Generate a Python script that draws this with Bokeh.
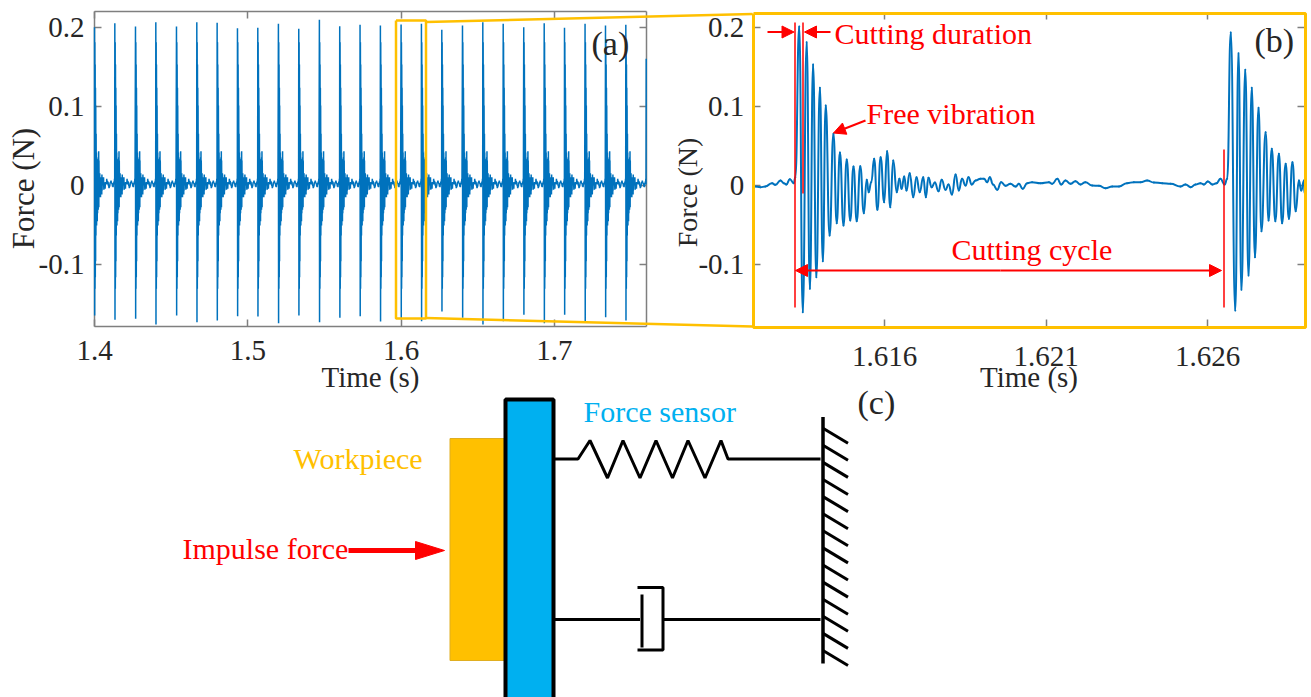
import math
import numpy as np
from bokeh.core.properties import value
from bokeh.embed import file_html
from bokeh.models import Arrow, FixedTicker, LinearAxis, NormalHead, Range1d
from bokeh.plotting import figure
from bokeh.resources import INLINE

# ---- panel (b): force signal (extremes of the oscillation)
b_time = [
    1.61197, 1.61216, 1.61231, 1.61252, 1.61262, 1.61278, 1.61288, 1.61296, 1.61307, 1.61319, 1.61324,
    1.61336, 1.61347, 1.61359, 1.61369, 1.61379, 1.61389, 1.61400, 1.61409, 1.61418, 1.61430, 1.61442,
    1.61452, 1.61462, 1.61473, 1.61483, 1.61494, 1.61504, 1.61514, 1.61525, 1.61536, 1.61545, 1.61551,
    1.61559, 1.61568, 1.61578, 1.61588, 1.61599, 1.61608, 1.61618, 1.61627, 1.61638, 1.61646, 1.61653,
    1.61661, 1.61668, 1.61678, 1.61689, 1.61699, 1.61709, 1.61720, 1.61728, 1.61736, 1.61746, 1.61756,
    1.61767, 1.61777, 1.61789, 1.61798, 1.61809, 1.61820, 1.61830, 1.61840, 1.61851, 1.61860, 1.61870,
    1.61882, 1.61897,
    1.61908, 1.61918, 1.61926, 1.61936, 1.61949, 1.61961, 1.61975, 1.61990, 1.62006, 1.62016, 1.62028,
    1.62042, 1.62057, 1.62083, 1.62109, 1.62119, 1.62135, 1.62147, 1.62160, 1.62176, 1.62191, 1.62207,
    1.62222, 1.62243, 1.62264, 1.62284, 1.62305, 1.62326, 1.62351, 1.62372, 1.62393, 1.62413, 1.62434,
    1.62460, 1.62486, 1.62516, 1.62532, 1.62548, 1.62563, 1.62578, 1.62589, 1.62601, 1.62615, 1.62628,
    1.62640, 1.62653, 1.62661,
    1.62672, 1.62686, 1.62696, 1.62705, 1.62717, 1.62727, 1.62737, 1.62747, 1.62758, 1.62767, 1.62780,
    1.62789, 1.62799, 1.62810, 1.62821, 1.62831, 1.62842, 1.62852, 1.62863, 1.62873, 1.62883, 1.62890,
    1.62899, 1.62900,
]
b_force = [
    -.0013, -.0021, -.0013, .0030, .0008, .0063, .0030, .0013, .0080, .0030, .0105,
    .2013, -.1603, .1814, -.1308, .1532, -.1160, .1236, -.0958, .1013, -.0633, .0654,
    -.0477, .0418, -.0506, .0329, -.0443, .0241, -.0451, .0245, -.0350, .0072, -.0084,
    .0042, .0338, -.0308, .0359, -.0211, .0435, -.0274, .0316, -.0084, .0084, -.0042,
    .0114, -.0063, .0156, -.0148, .0105, -.0084, .0105, -.0148, .0097, -.0021, .0038,
    -.0072, .0072, -.0055, .0013, -.0114, .0139, -.0063, .0084, 0.0, .0105, .0013,
    .0063, .0084,
    .0084, .0042, .0105, .0013, -.0055, .0042, -.0004, .0021, -.0013, .0021, -.0042,
    .0030, .0042, .0030, .0042, .0021, .0084, .0013, .0063, .0021, .0055, .0013,
    .0042, 0.0, -.0004, -.0034, -.0013, -.0013, .0030, .0042, .0042, .0063, .0038,
    .0030, .0021, -.0013, .0013, -.0021, .0013, .0030, .0013, .0051, .0013, .0030,
    .0084, .0013, .0084,
    .1937, -.1582, .1675, -.1321, .1464, -.1139, .1236, -.0907, .0983, -.0578, .0675,
    -.0443, .0464, -.0451, .0401, -.0477, .0274, -.0422, .0295, -.0325, .0063, -.0063,
    .0063, -.0097,
]

# ---- panel (a): time, top and bottom of every cutting burst
a_burst_time = [
    1.4, 1.41326, 1.42674, 1.44, 1.45348, 1.46674, 1.48, 1.49326, 1.50652, 1.51997, 1.53324, 1.5467, 1.55996,
    1.57322, 1.58649, 1.6, 1.61326, 1.62655, 1.64005, 1.6533, 1.6666, 1.68, 1.69335, 1.70659, 1.72, 1.73333,
    1.74659, 1.7599,
]
a_burst_top = [
    .2004, .2055, .2013, .2068, .2013, .2068, .2059, .1992, .1996, .2046, .1983, .2097, .2017, .2034,
    .2025, .2038, .2046, .1970, .2025, .2068, .2046, .2004, .2055, .1996, .2046, .2025, .2034, .1603,
]
a_burst_bottom = [
    -.1646, -.1700, -.1688, -.1759, -.1646, -.1730, -.1709, -.1654, -.1658, -.1743, -.1646, -.1730, -.1675,
    -.1654, -.1722, -.1696, -.1717, -.1595, -.1675, -.1759, -.1717, -.1637, -.1743, -.1637, -.1717, -.1667,
    -.1709, -.1600,
]

a_xticks = [1.4, 1.5, 1.6, 1.7]
a_yticks = [-0.1, 0, 0.1, 0.2]
b_xticks = [1.616, 1.621, 1.626]
b_yticks = [-0.1, 0, 0.1, 0.2]
y_tick_labels = {-0.1: "-0.1", 0: "0", 0.1: "0.1", 0.2: "0.2"}

W, H = 1311, 697
OX, OY = 0, 0
SERIF = value("Liberation Serif")
LINE = "#0072BD"
RED = "#FF0000"
YELLOW = "#FFC000"
CYAN = "#00B0F0"
GREY = "#7f7f7f"
DARK = "#262626"

# The frame is the whole figure, in picture pixels; each panel has its own ranges.
p = figure(width=W, height=H, x_range=Range1d(OX, OX + W), y_range=Range1d(OY + H, OY),
           x_axis_type=None, y_axis_type=None, toolbar_location=None, output_backend="svg",
           min_border=0, outline_line_color=None, background_fill_color="white")
p.grid.visible = False


def add_ranges(name, px_per_x, px0, x0, px_per_y, py0):
    p.extra_x_ranges[name + "x"] = Range1d(x0 + (OX - px0) / px_per_x, x0 + (OX + W - px0) / px_per_x)
    p.extra_y_ranges[name + "y"] = Range1d((py0 - OY - H) / px_per_y, (py0 - OY) / px_per_y)


add_ranges("a", 1533.0, 94, 1.4, 790.0, 185)
add_ranges("b", 32300.0, 884, 1.616, 790.0, 185)


def add_axes(name, xlim, ylim, xticks, yticks, line_color, x_standoff, label_standoff, y_standoff):
    kw = dict(x_range_name=name + "x", y_range_name=name + "y", level="underlay",
              axis_line_color=line_color, axis_line_width=1.5,
              major_tick_in=7, major_tick_out=0, minor_tick_in=0, minor_tick_out=0,
              major_tick_line_color=GREY, major_tick_line_width=1.5)
    text = dict(major_label_text_font=SERIF.value, major_label_text_font_size="29px", major_label_text_color=DARK)
    left = LinearAxis(ticker=FixedTicker(ticks=yticks), fixed_location=xlim[0], bounds=ylim,
                      major_label_overrides=y_tick_labels, major_label_standoff=y_standoff, **kw, **text)
    bottom = LinearAxis(ticker=FixedTicker(ticks=xticks), fixed_location=ylim[0], bounds=xlim,
                        major_label_standoff=x_standoff, axis_label="Time (s)", axis_label_standoff=label_standoff,
                        axis_label_text_font=SERIF.value, axis_label_text_font_size="29px",
                        axis_label_text_font_style="normal", axis_label_text_color=DARK, **kw, **text)
    # mirrored box sides: ticks only, as minor ticks, so no labels exist there
    mirror = dict(kw, minor_tick_in=7, minor_tick_out=0, minor_tick_line_color=GREY, minor_tick_line_width=1.5)
    right = LinearAxis(ticker=FixedTicker(ticks=[], minor_ticks=yticks), fixed_location=xlim[1], bounds=ylim, **mirror)
    top = LinearAxis(ticker=FixedTicker(ticks=[], minor_ticks=xticks), fixed_location=ylim[1], bounds=xlim, **mirror)
    p.add_layout(left, "left")
    p.add_layout(right, "right")
    p.add_layout(bottom, "below")
    p.add_layout(top, "above")


def label(x, y, s, color=DARK, size=30, angle=0.0, align="left"):
    p.text([x], [y], text=[s], text_color=color, text_font=SERIF, text_font_size=value(f"{size}px"),
           text_align=align, text_baseline="middle", angle=angle)


def arrow(x0, y0, x1, y1, size=12):
    p.add_layout(Arrow(end=NormalHead(size=size, fill_color=RED, line_color=RED, line_width=1),
                       x_start=x0, y_start=y0, x_end=x1, y_end=y1, line_color=RED, line_width=2))


# ---- panel (a): each cycle carries the shape read in (b), with its own top and bottom
t_b = np.array(b_time)
f_b = np.array(b_force)
i_peak = 11
i_next = 114
tpl_t = t_b[i_peak:i_next] - t_b[i_peak]
tpl_f = f_b[i_peak:i_next]
a_t, a_f = [], []
for tk, top, bot in zip(a_burst_time, a_burst_top, a_burst_bottom):
    shape = tpl_f.copy()
    shape[0], shape[1] = top, bot
    a_t.extend(tk + tpl_t)
    a_f.extend(shape)
a_t = np.array(a_t)
a_f = np.array(a_f)
keep = a_t <= 1.76
p.line(a_t[keep], a_f[keep], line_color=LINE, line_width=1.5, x_range_name="ax", y_range_name="ay")

# ---- panel (b): the read extremes are joined by curved segments, flat at each extreme
mid_t = (t_b[:-1] + t_b[1:]) / 2
p.bezier(x0=t_b[:-1], y0=f_b[:-1], x1=t_b[1:], y1=f_b[1:],
         cx0=mid_t, cy0=f_b[:-1], cx1=mid_t, cy1=f_b[1:],
         line_color=LINE, line_width=2.0, line_cap="round", x_range_name="bx", y_range_name="by")

add_axes("a", (1.4, 1.76), (-0.179, 0.22), a_xticks, a_yticks, GREY, 14, -2, 10)
add_axes("b", (1.61194, 1.629), (-0.179, 0.2190), b_xticks, b_yticks, None, 20, -8, 9)

# ---- zoom rectangle, connectors and frame of (b)
p.line([395.5, 425.5, 425.5, 395.5, 395.5], [20, 20, 318, 318, 20], line_color=YELLOW, line_width=2.5)
p.line([425.5, 752], [21.5, 13.5], line_color=YELLOW, line_width=2.5)
p.line([425.5, 752], [317.5, 326], line_color=YELLOW, line_width=2.5)
p.line([753, 1305, 1305, 753, 753], [13, 13, 327, 327, 13], line_color=YELLOW, line_width=3)

# ---- annotations (y is the middle of the text)
label(22.5, 188, "Force (N)", size=31, angle=math.pi / 2, align="center")
label(687, 192, "Force (N)", size=28, angle=math.pi / 2, align="center")
label(591, 43, "(a)", size=34)
label(1254, 40, "(b)", size=34)
label(857, 402, "(c)", size=34)
label(834, 33, "Cutting duration", RED)
label(866, 113, "Free vibration", RED)
label(951, 249, "Cutting cycle", RED)
label(583, 411, "Force sensor", CYAN)
label(293, 458, "Workpiece", YELLOW)
label(182, 548, "Impulse force", RED)

p.line([794.5, 794.5], [22, 307], line_color=RED, line_width=1.5)
p.line([802.5, 802.5], [22, 193], line_color=RED, line_width=1.5)
p.line([1223.5, 1223.5], [149, 307], line_color=RED, line_width=1.5)
arrow(767, 31.5, 793.5, 31.5)
arrow(830, 31.5, 804, 31.5)
arrow(865, 120, 833, 132.5)
arrow(1000, 270, 795, 270)
arrow(1000, 270, 1221, 270)

# ---- diagram (c)
p.quad(left=449.5, right=504, top=438, bottom=660, fill_color=YELLOW, line_color="#E0AE20", line_width=1)
p.quad(left=505, right=553, top=399, bottom=703, fill_color=CYAN, line_color="black", line_width=4)
p.line([553, 577.5, 589.5, 607, 622.5, 639.5, 655.5, 672, 687.5, 704.5, 720.5, 727.5, 820],
       [458.5, 458.5, 440, 477.5, 440, 477.5, 440, 477.5, 440, 477.5, 440, 458.5, 458.5],
       line_color="black", line_width=3)
p.line([553, 639.5], [619, 619], line_color="black", line_width=3)
p.line([662, 820], [619, 619], line_color="black", line_width=3)
p.line([641.5, 641.5], [594, 647], line_color="black", line_width=3)
p.line([637, 662.5, 662.5, 637], [587, 587, 649.5, 649.5], line_color="black", line_width=3)
p.line([822.5, 822.5], [416.5, 663], line_color="black", line_width=3.5)
for k in range(14):
    y_end = 442.7 + 17.1 * k
    p.line([822.5, 847.5], [y_end - 15, y_end], line_color="black", line_width=3)

p.line([348, 416], [550, 550], line_color=RED, line_width=5)
p.patch([415, 444, 415], [541, 550, 559], fill_color=RED, line_color=RED, line_width=1)

open("out.html", "w").write(file_html(p, INLINE))
